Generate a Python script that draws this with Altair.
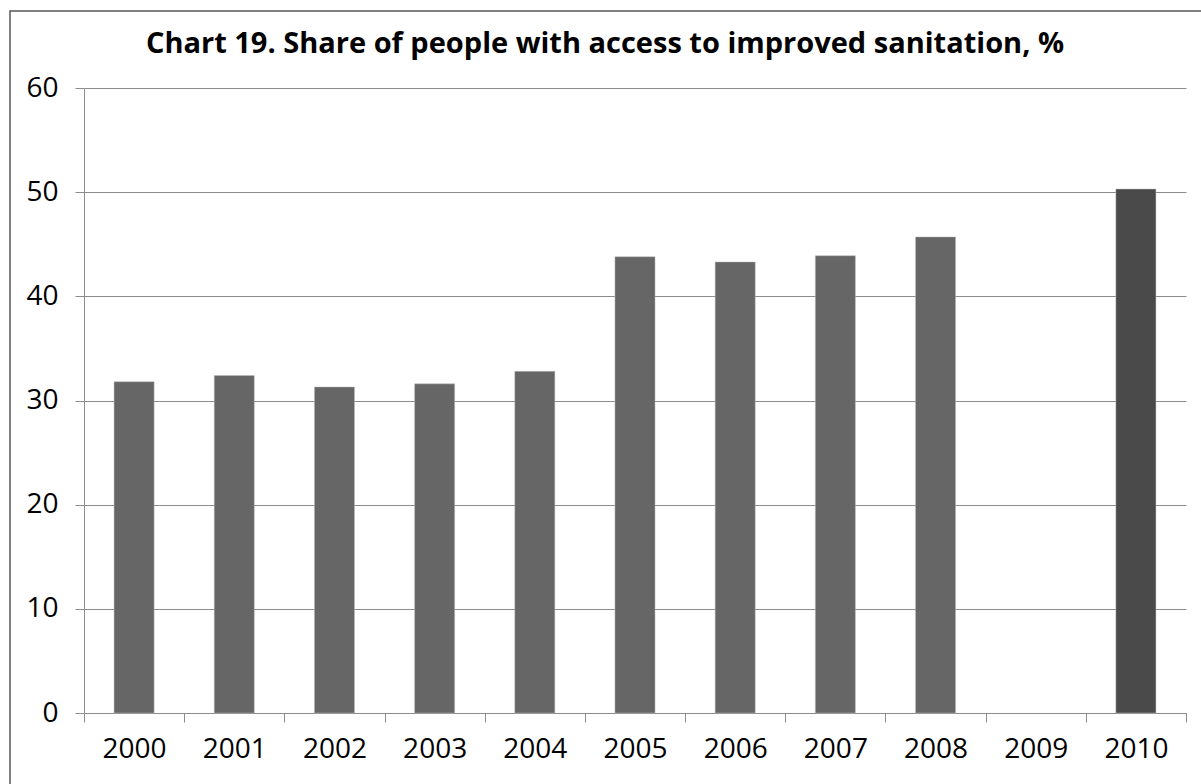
import altair as alt
import pandas as pd

# Share of people with access to improved sanitation, %
title_text = "Chart 19. Share of people with access to improved sanitation, %"
years = ["2000", "2001", "2002", "2003", "2004", "2005", "2006", "2007", "2008", "2009", "2010"]
shares = [31.8, 32.4, 31.3, 31.6, 32.8, 43.8, 43.3, 43.9, 45.7, None, 50.3]
bar_colors = ["#666666"] * 10 + ["#4a4a4a"]

df = pd.DataFrame({"year": years, "share": shares, "color": bar_colors})
title_df = pd.DataFrame({"t": [title_text]})

FONT = "Open Sans"
GRID = "#8c8c8c"

x_enc = alt.X(
    "year:N",
    sort=years,
    scale=alt.Scale(paddingInner=0, paddingOuter=0),
    axis=alt.Axis(
        title=None,
        labelAngle=0,
        tickBand="extent",
        tickSize=9,
        tickColor=GRID,
        domainColor=GRID,
        labelPadding=13,
        labelFontSize=28,
        labelFont=FONT,
        labelColor="#000000",
    ),
)

bars = alt.Chart(df).mark_bar(
    width=alt.RelativeBandSize(0.4), stroke="#bdbdbd", strokeWidth=0.5
).encode(
    x=x_enc,
    y=alt.Y(
        "share:Q",
        scale=alt.Scale(domain=[0, 60], nice=False),
        axis=alt.Axis(
            title=None,
            values=[0, 10, 20, 30, 40, 50, 60],
            tickSize=9,
            tickColor=GRID,
            domainColor=GRID,
            gridColor=GRID,
            gridWidth=1,
            labelPadding=17,
            labelFontSize=28,
            labelFont=FONT,
            labelColor="#000000",
        ),
    ),
    color=alt.Color("color:N", scale=None),
)

# chart heading, centred over the figure
heading = alt.Chart(title_df).mark_text(
    font=FONT,
    fontSize=29,
    fontWeight="bold",
    color="#000000",
    align="center",
    baseline="alphabetic",
).encode(
    text="t:N",
    x=alt.value(521),
    y=alt.value(-35),
)

# outer frame around the whole figure
frame = alt.Chart(title_df).mark_rect(
    fill=None, stroke="#555555", strokeWidth=1.5, clip=False
).encode(
    x=alt.value(-74),
    x2=alt.value(1130),
    y=alt.value(-77),
    y2=alt.value(720),
)

chart = (
    alt.layer(bars, heading, frame)
    .properties(
        width=1102,
        height=625,
        padding={"left": 84, "top": 88, "right": 15, "bottom": 71},
        autosize=alt.AutoSizeParams(type="none"),
    )
    .configure_view(stroke=None)
    .configure_axis(grid=True)
    .configure_axisX(grid=False)
)

chart.save("out.html", embed_options={"renderer": "svg", "actions": False})
